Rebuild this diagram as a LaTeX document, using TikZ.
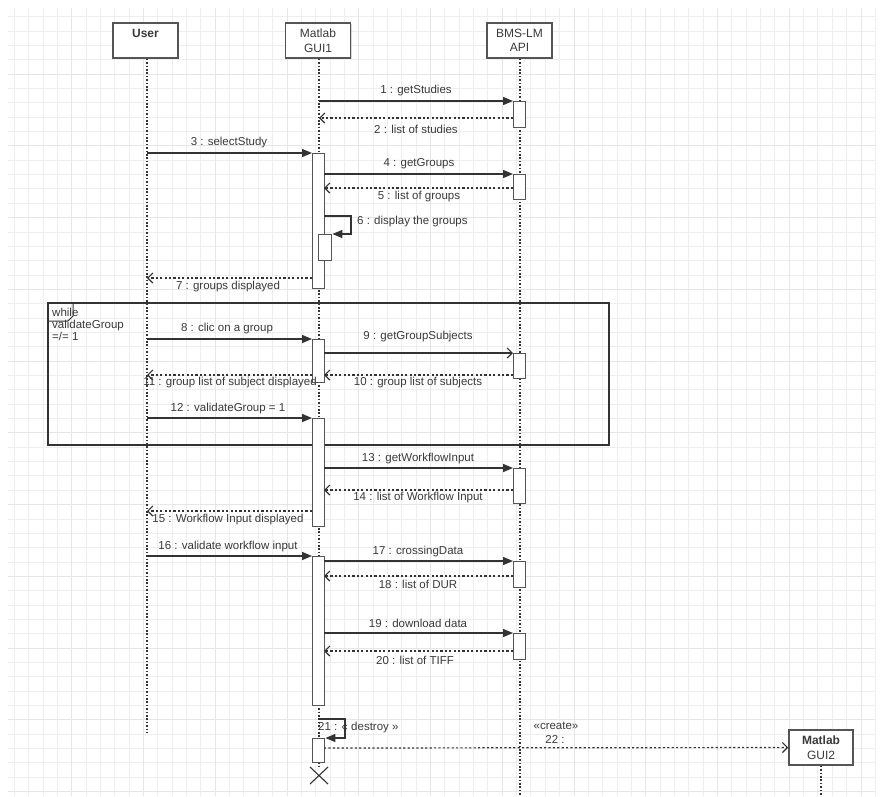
\documentclass[tikz,border=0pt]{standalone}
\usepackage{fontspec}
\setmainfont{Liberation Sans}
\usetikzlibrary{arrows.meta,shadows}
\definecolor{ink}{HTML}{333333}
\definecolor{txt}{HTML}{3A3A3A}
\definecolor{boxline}{HTML}{555555}
\definecolor{gridminor}{HTML}{EEEEEE}
\definecolor{gridmajor}{HTML}{E6E6E6}
\begin{document}
\begin{tikzpicture}[x=1pt,y=-1pt,
  actor/.style={draw=boxline, line width=1.5pt, fill=white, minimum width=65pt, minimum height=35pt,
    inner sep=1pt, align=center, text=txt, font=\fontsize{12}{14.5}\selectfont,
    drop shadow={shadow xshift=1.2pt,shadow yshift=-1.2pt,opacity=0.3}},
  life/.style={draw=ink, line width=1.3pt, dash pattern=on 1.6pt off 1.8pt},
  act/.style={draw=boxline, line width=1.4pt, fill=white, minimum width=12pt, inner sep=0pt, anchor=north west},
  call/.style={draw=ink, line width=1.4pt, -{Triangle[length=10pt,width=8pt]}},
  async/.style={draw=ink, line width=1.2pt, -{Straight Barb[length=5pt,width=10pt]}},
  reply/.style={draw=ink, line width=1.2pt, dash pattern=on 2.2pt off 2.2pt, -{Straight Barb[length=5pt,width=10pt]}},
  lbl/.style={inner sep=0pt, text=txt, font=\fontsize{11.5}{13}\selectfont},
  frame/.style={draw=ink, line width=1.2pt}]
% background and grid
\useasboundingbox (0,0) rectangle (880,796);
\fill[white] (0,0) rectangle (880,796);
\foreach \i in {0,...,60} {\pgfmathsetmacro\xx{14.3+14.35*\i}\draw[gridminor, line width=0.9pt] (\xx,8) -- (\xx,796);}
\foreach \j in {0,...,54} {\pgfmathsetmacro\yy{16.7+14.35*\j}\draw[gridminor, line width=0.9pt] (8,\yy) -- (876,\yy);}
\foreach \i in {4,9,...,59} {\pgfmathsetmacro\xx{14.3+14.35*\i}\draw[gridmajor, line width=0.9pt] (\xx,8) -- (\xx,796);}
\foreach \j in {4,9,...,54} {\pgfmathsetmacro\yy{16.7+14.35*\j}\draw[gridmajor, line width=0.9pt] (8,\yy) -- (876,\yy);}

% loop frame
\draw[frame] (48,303) rectangle (609,445);
\draw[draw=ink, line width=1pt] (48,321) -- (68,321) -- (73,316) -- (73,303);
\node[lbl, anchor=north west, align=left, font=\fontsize{11.5}{12}\selectfont] (looplbl) at (52,308) {while\\validateGroup\\=/= 1};

% actors
\node[actor] (user) at (145.5,40.5) {\textbf{User}\\\phantom{X}};
\node[actor] (gui1) at (318,40.5) {Matlab\\GUI1};
\node[actor] (bms) at (519.5,40.5) {BMS-LM\\API};
\node[actor, minimum width=64pt] (gui2) at (821,747.5) {\textbf{Matlab}\\GUI2};

% lifelines
\coordinate (userend) at (147,733);
\coordinate (guiend) at (319,767);
\coordinate (bmsend) at (520,796);
\coordinate (gui2end) at (821,796);
\draw[life] (user.south -| userend) -- (userend);
\draw[life] (gui1.south -| guiend) -- (guiend);
\draw[life] (bms.south -| bmsend) -- (bmsend);
\draw[life] (gui2.south -| gui2end) -- (gui2end);

% activation boxes
\node[act, minimum height=135pt] (ga) at (312,153) {};
\node[act, minimum height=43pt] (gb) at (312,339) {};
\node[act, minimum height=108pt] (gc) at (312,418) {};
\node[act, minimum height=149pt] (gd) at (312,556) {};
\node[act, minimum height=24pt] (ge) at (312,738) {};
\node[act, minimum width=13pt, minimum height=26pt] (gn) at (318,234) {};
\node[act, minimum height=26pt] (b1) at (513,101) {};
\node[act, minimum height=25pt] (b2) at (513,174) {};
\node[act, minimum height=25pt] (b3) at (513,353) {};
\node[act, minimum height=35pt] (b4) at (513,468) {};
\node[act, minimum height=26pt] (b5) at (513,561) {};
\node[act, minimum height=26pt] (b6) at (513,633) {};

% destruction mark
\coordinate (xa) at (310,767); \coordinate (xb) at (328,784);
\coordinate (xc) at (328,767); \coordinate (xd) at (310,784);
\draw[draw=ink, line width=1.1pt] (xa) -- (xb) (xc) -- (xd);

% message end points
\coordinate (m1a) at (319,101);
\coordinate (m2a) at (513,118); \coordinate (m2b) at (319,118);
\coordinate (m3a) at (147,153);
\coordinate (m4a) at (324,174);
\coordinate (m5a) at (513,188); \coordinate (m5b) at (324,188);
\coordinate (m6a) at (324,216); \coordinate (m6b) at (351,216); \coordinate (m6c) at (351,234);
\coordinate (m7a) at (312,278); \coordinate (m7b) at (147,278);
\coordinate (m8a) at (147,339);
\coordinate (m9a) at (324,353);
\coordinate (m10a) at (513,375); \coordinate (m10b) at (324,375);
\coordinate (m11a) at (312,375); \coordinate (m11b) at (147,375);
\coordinate (m12a) at (147,418);
\coordinate (m13a) at (324,468);
\coordinate (m14a) at (513,490); \coordinate (m14b) at (324,490);
\coordinate (m15a) at (312,511); \coordinate (m15b) at (147,511);
\coordinate (m16a) at (147,556);
\coordinate (m17a) at (324,561);
\coordinate (m18a) at (513,576); \coordinate (m18b) at (324,576);
\coordinate (m19a) at (324,633);
\coordinate (m20a) at (513,651); \coordinate (m20b) at (324,651);
\coordinate (m21a) at (319,719); \coordinate (m21b) at (345,719); \coordinate (m21c) at (345,738);
\coordinate (m22a) at (324,748);

% messages
\draw[call] (m1a) -- (b1.north west);
\draw[reply] (m2a) -- (m2b);
\draw[call] (m3a) -- (ga.north west);
\draw[call] (m4a) -- (b2.north west);
\draw[reply] (m5a) -- (m5b);
\draw[call] (m6a) -- (m6b) -- (m6c) -- (gn.north east);
\draw[reply] (m7a) -- (m7b);
\draw[call] (m8a) -- (gb.north west);
\draw[async] (m9a) -- (b3.north west);
\draw[reply] (m10a) -- (m10b);
\draw[reply] (m11a) -- (m11b);
\draw[call] (m12a) -- (gc.north west);
\draw[call] (m13a) -- (b4.north west);
\draw[reply] (m14a) -- (m14b);
\draw[reply] (m15a) -- (m15b);
\draw[call] (m16a) -- (gd.north west);
\draw[call] (m17a) -- (b5.north west);
\draw[reply] (m18a) -- (m18b);
\draw[call] (m19a) -- (b6.north west);
\draw[reply] (m20a) -- (m20b);
\draw[call] (m21a) -- (m21b) -- (m21c) -- (ge.north east);
\draw[reply] (m22a) -- (gui2.west);

% labels
\node[lbl] (l1) at (416,91) {1 : getStudies};
\node[lbl] (l2) at (416,129) {2 : list of studies};
\node[lbl] (l3) at (229,143) {3 : selectStudy};
\node[lbl] (l4) at (419,164) {4 : getGroups};
\node[lbl] (l5) at (419,197) {5 : list of groups};
\node[lbl, anchor=west] (l6) at (357,222) {6 : display the groups};
\node[lbl] (l7) at (228,287) {7 : groups displayed};
\node[lbl] (l8) at (227,329) {8 : clic on a group};
\node[lbl] (l9) at (418,337) {9 : getGroupSubjects};
\node[lbl] (l10) at (418,383) {10 : group list of subjects};
\node[lbl] (l11) at (230,383) {11 : group list of subject displayed};
\node[lbl] (l12) at (228,409) {12 : validateGroup = 1};
\node[lbl] (l13) at (418,459) {13 : getWorkflowInput};
\node[lbl] (l14) at (418,498) {14 : list of Workflow Input};
\node[lbl] (l15) at (228,520) {15 : Workflow Input displayed};
\node[lbl] (l16) at (228,547) {16 : validate workflow input};
\node[lbl] (l17) at (418,552) {17 : crossingData};
\node[lbl] (l18) at (418,584) {18 : list of DUR};
\node[lbl] (l19) at (418,623) {19 : download data};
\node[lbl] (l20) at (415,660) {20 : list of TIFF};
\node[lbl, anchor=west] (l21) at (318,728) {21 : « destroy »};
\node[lbl] (l22a) at (556,726) {«create»};
\node[lbl] (l22b) at (555,739) {22 :};
\end{tikzpicture}
\end{document}
